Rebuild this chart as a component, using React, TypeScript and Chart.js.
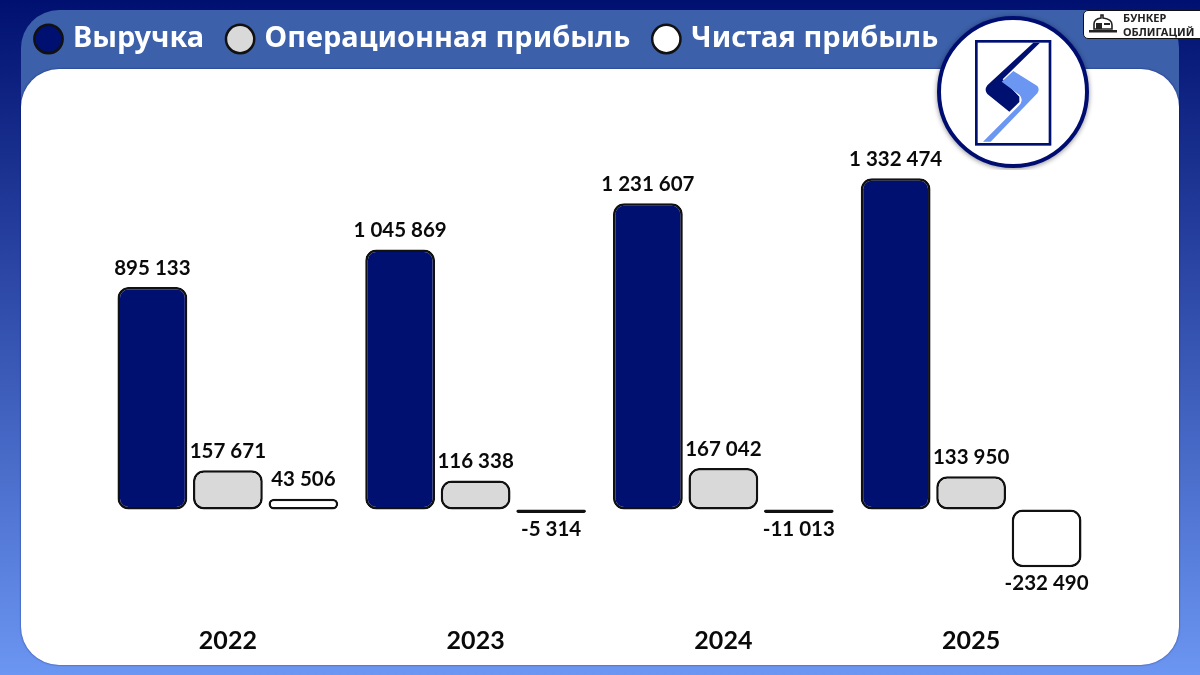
import React, { useEffect, useRef } from "react";
import { Chart, registerables } from "chart.js";

Chart.register(...registerables);

const years = ["2022", "2023", "2024", "2025"];
const revenue = [895133, 1045869, 1231607, 1332474];
const operatingProfit = [157671, 116338, 167042, 133950];
const netProfit = [43506, -5314, -11013, -232490];

const fmt = (v: number) => {
  const s = Math.abs(v).toString().replace(/\B(?=(\d{3})+(?!\d))/g, " ");
  return (v < 0 ? "-" : "") + s;
};

const valueLabels = {
  id: "valueLabels",
  afterDatasetsDraw(chart: any) {
    const ctx = chart.ctx;
    ctx.save();
    ctx.font = "bold 20.5px Lato";
    ctx.fillStyle = "#0a0a0a";
    ctx.textAlign = "center";
    ctx.textBaseline = "middle";
    chart.data.datasets.forEach((ds: any, i: number) => {
      chart.getDatasetMeta(i).data.forEach((el: any, j: number) => {
        const v = ds.data[j];
        const y = v >= 0 ? el.y - 19 : el.y + 16;
        ctx.fillText(fmt(v), el.x, y);
      });
    });
    ctx.restore();
  },
};

export default function App() {
  const ref = useRef<HTMLCanvasElement>(null);
  useEffect(() => {
    const common = {
      borderColor: "#111111",
      borderWidth: 2.5,
      borderRadius: 11,
      borderSkipped: false,
      categoryPercentage: 0.914,
      barPercentage: 0.925,
      minBarLength: 3.5,
    };
    const chart = new Chart(ref.current!, {
      type: "bar",
      data: {
        labels: years,
        datasets: [
          { label: "Выручка", data: revenue, backgroundColor: "#001070", ...common },
          { label: "Операционная прибыль", data: operatingProfit, backgroundColor: "#d9d9d9", ...common },
          { label: "Чистая прибыль", data: netProfit, backgroundColor: "#ffffff", ...common },
        ],
      } as any,
      options: {
        animation: false,
        responsive: false,
        layout: { padding: { left: 12.5, right: 105, top: -1.5, bottom: 11 } },
        plugins: {
          tooltip: { enabled: false },
          legend: {
            position: "top",
            align: "start",
            labels: {
              usePointStyle: true,
              pointStyle: "circle",
              boxWidth: 20,
              boxHeight: 20,
              padding: 26,
              color: "#ffffff",
              font: { family: "'Noto Sans'", size: 29, weight: "bold" },
            },
          },
        },
        scales: {
          x: {
            grid: { display: false },
            border: { display: false },
            ticks: { color: "#0a0a0a", padding: 8, font: { family: "Lato", size: 25, weight: "bold" } },
          },
          y: {
            min: -404400,
            max: 1794000,
            grid: { display: false },
            border: { display: false },
            ticks: { display: false },
            afterFit(s: any) {
              s.width = 91.5;
            },
          },
        },
      } as any,
      plugins: [valueLabels],
    });
    return () => chart.destroy();
  }, []);

  return (
    <div style={{ position: "fixed", left: 0, top: 0, width: 1200, height: 675, overflow: "hidden", background: "linear-gradient(180deg,#001070 0%,#6b96f2 100%)" }}>
      <div style={{ position: "absolute", left: 21, top: 10, width: 1158, height: 110, borderRadius: "38px 38px 0 0", background: "#3c60a9" }} />
      <div style={{ position: "absolute", left: 21, top: 69, width: 1158, height: 596, borderRadius: 38, background: "#ffffff", boxShadow: "0 0 2px rgba(0,16,112,0.7)" }} />
      <canvas ref={ref} width={1200} height={675} style={{ position: "absolute", left: 0, top: 0, display: "block" }} />
      <svg width={300} height={170} viewBox="0 0 900 510" style={{ position: "absolute", left: 900, top: 0 }}>
        <defs>
          <filter id="sh" x="-20%" y="-20%" width="140%" height="140%">
            <feDropShadow dx="0" dy="3" stdDeviation="8" floodColor="#000" floodOpacity="0.45" />
          </filter>
        </defs>
        <circle cx={339} cy={276} r={222} fill="#fff" stroke="#001070" strokeWidth={12} filter="url(#sh)" />
        <rect x={229} y={124} width={221} height={309} fill="none" stroke="#001070" strokeWidth={8} />
        <path d="M400 128 L420 128 L308 238 L358 290 L358 306 L328 335 L262 282 Q252 270 262 256 Z" fill="#001070" />
        <path d="M340 213 L412 258 Q420 268 412 280 L272 425 L249 425 L358 316 Q372 298 358 284 L305 245 Z" fill="#6b96f2" />
      </svg>
      <div style={{ position: "absolute", left: 1083, top: 10, width: 125, height: 29, boxSizing: "border-box", background: "#fff", border: "1px solid #111", borderRadius: 5 }} />
      <svg width={30} height={22} viewBox="0 0 30 22" style={{ position: "absolute", left: 1088, top: 14 }}>
        <path d="M6 15 V10 Q6 5 13 4 V1 H15 V4 Q24 5 24 11 V15 Z" fill="none" stroke="#222" strokeWidth={1.6} />
        <rect x={8} y={9} width={6} height={6} fill="#222" />
        <rect x={16} y={9} width={6} height={2} fill="#222" />
        <rect x={1} y={16} width={28} height={2.5} fill="#222" />
      </svg>
      <div style={{ position: "absolute", left: 1123, top: 11, fontFamily: "'Noto Sans'", fontWeight: 700, fontSize: 11, lineHeight: "13.5px", color: "#222", whiteSpace: "pre" }}>
        {"БУНКЕР\nОБЛИГАЦИЙ"}
      </div>
    </div>
  );
}
